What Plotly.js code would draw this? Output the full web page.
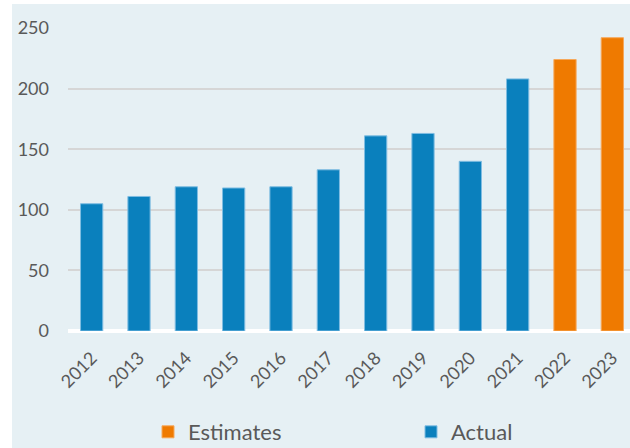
<!DOCTYPE html>
<html>
<head>
<meta charset="utf-8">
<script src="https://cdn.plot.ly/plotly-3.0.1.min.js"></script>
<style>
  html, body { margin: 0; padding: 0; background: #ffffff; overflow: hidden; width: 630px; height: 448px; }
  #chart { position: absolute; left: 12px; top: 4px; width: 624px; height: 444px; }
</style>
</head>
<body>
<div id="chart"></div>
<script>
const actualYears = ["2012", "2013", "2014", "2015", "2016", "2017", "2018", "2019", "2020", "2021"];
const actualValues = [105, 111, 119, 118, 119, 133, 161, 163, 140, 208];
const estimateYears = ["2022", "2023"];
const estimateValues = [224, 242];
const allYears = actualYears.concat(estimateYears);
const yTicks = [0, 50, 100, 150, 200, 250];

const blue = "#0a80bd";
const orange = "#ef7a00";
const textColor = "#595959";
const fontFamily = "Lato, 'Open Sans', sans-serif";

const traces = [
  {
    type: "bar",
    name: "Actual",
    x: actualYears,
    y: actualValues,
    legend: "legend2",
    marker: { color: blue, line: { color: "#7fbde2", width: 1 } },
    hoverinfo: "x+y"
  },
  {
    type: "bar",
    name: "Estimates",
    x: estimateYears,
    y: estimateValues,
    legend: "legend",
    marker: { color: orange, line: { color: "#f6a85a", width: 1 } },
    hoverinfo: "x+y"
  }
];

const legendCommon = {
  orientation: "h",
  xref: "container",
  yref: "container",
  xanchor: "left",
  yanchor: "middle",
  y: 0.036,
  bgcolor: "rgba(0,0,0,0)",
  font: { size: 22, color: textColor, family: fontFamily }
};

const layout = {
  width: 624,
  height: 444,
  paper_bgcolor: "#e6f0f4",
  plot_bgcolor: "#e6f0f4",
  margin: { l: 56, r: 0, t: 24, b: 117, autoexpand: false },
  barmode: "overlay",
  bargap: 0.53,
  font: { family: fontFamily, color: textColor, size: 18 },
  xaxis: {
    type: "category",
    categoryorder: "array",
    categoryarray: allYears,
    tickangle: -45,
    tickfont: { size: 18, color: textColor },
    showgrid: false,
    showline: false,
    ticks: "",
    ticklabelstandoff: 12
  },
  yaxis: {
    range: [0, 250],
    tickvals: yTicks,
    tickfont: { size: 18, color: textColor },
    gridcolor: "#d6d6d6",
    gridwidth: 2,
    zeroline: true,
    zerolinecolor: "#ffffff",
    zerolinewidth: 4,
    showline: false,
    ticks: "",
    ticklabelstandoff: 18
  },
  showlegend: true,
  legend: Object.assign({}, legendCommon, { x: 136 / 624 }),
  legend2: Object.assign({}, legendCommon, { x: 399 / 624 })
};

Plotly.newPlot("chart", traces, layout, { displayModeBar: false, staticPlot: true });
</script>
</body>
</html>
